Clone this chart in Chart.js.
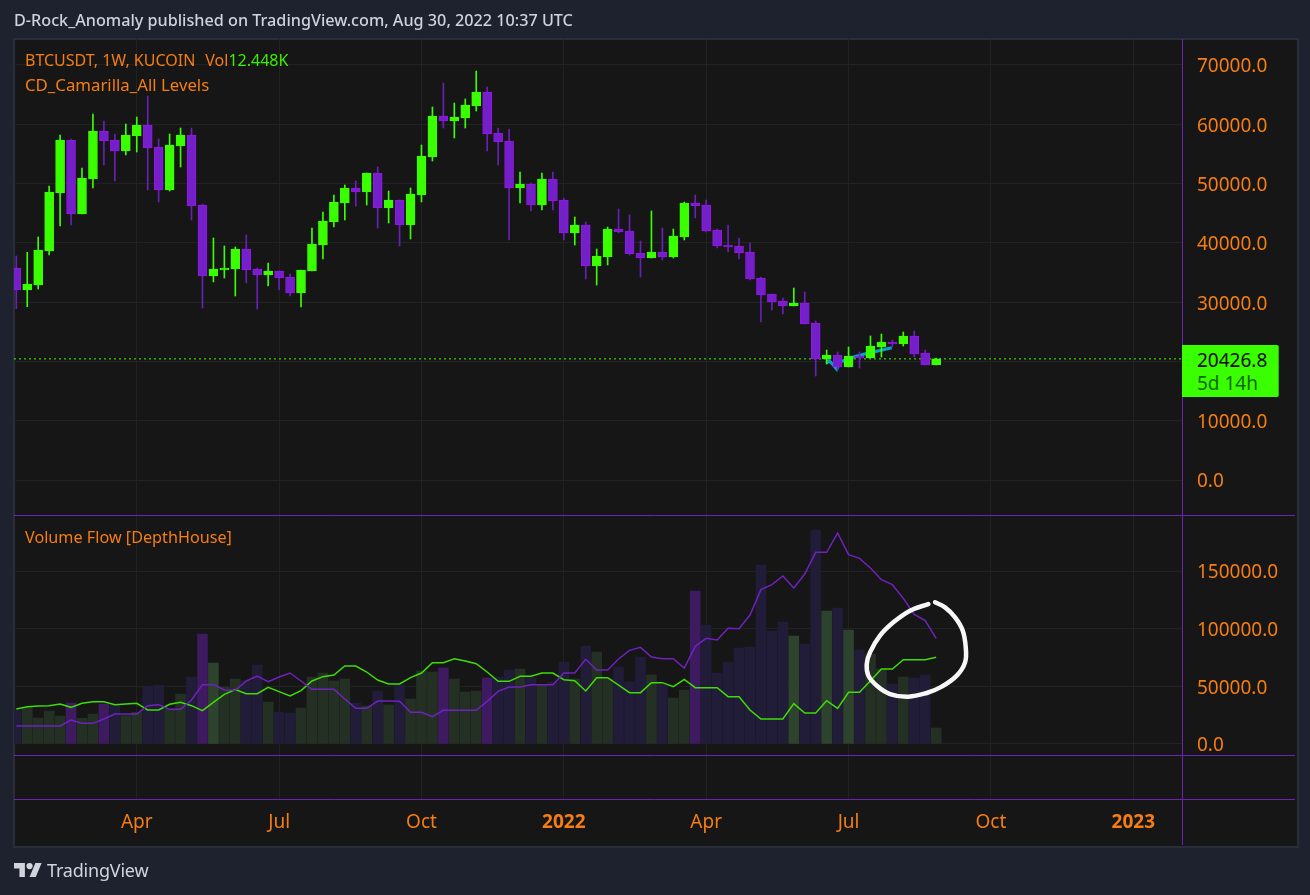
<!DOCTYPE html>
<html>
<head>
<meta charset="utf-8">
<script src="https://cdn.jsdelivr.net/npm/chart.js@4"></script>
<style>
html,body{margin:0;padding:0;width:1310px;height:895px;overflow:hidden;background:#1e222f;}
body{position:relative;font-family:"Noto Sans",sans-serif;}
#pane{position:absolute;left:13px;top:38px;width:1282px;height:806px;background:#161616;border:2px solid #2a2e3a;}
canvas{position:absolute;left:0;top:0;}
.t{position:absolute;white-space:pre;line-height:1;}
.o{color:#f57d14;font-size:16px;}
</style>
</head>
<body>
<div id="pane"></div>
<canvas id="c" width="1310" height="895" style="width:1310px;height:895px"></canvas>
<div class="t" style="left:14px;top:12px;font-size:16.2px;font-weight:500;color:#cfd2dc;">D-Rock_Anomaly published on TradingView.com, Aug 30, 2022 10:37 UTC</div>
<div class="t o" style="left:25px;top:52px;font-size:16px;">BTCUSDT, 1W, KUCOIN<span style="margin-left:10px">Vol</span><span style="color:#3cf000">12.448K</span></div>
<div class="t o" style="left:25px;top:77px;font-size:16.8px;">CD_Camarilla_All Levels</div>
<div class="t o" style="left:25px;top:529px;font-size:16.2px;">Volume Flow [DepthHouse]</div>
<div id="lastBox" style="position:absolute;left:1182px;top:345px;width:96px;height:52px;background:#39ff00;border-right:1px solid #2bb800;border-radius:0 2px 2px 0;"></div>
<div class="t" style="left:1197px;top:351px;font-size:19px;color:#0a0a0a;">20426.8</div>
<div class="t" style="left:1197px;top:374px;font-size:19px;color:#136a00;">5d 14h</div>
<svg style="position:absolute;left:14px;top:863px" width="28" height="14" viewBox="0 4 36 18"><path fill="#d1d4dc" d="M14 22H7V11H0V4h14v18zM28 22h-8l7.5-18h8L28 22z"/><circle fill="#d1d4dc" cx="20" cy="8" r="4"/></svg>
<div class="t" style="left:47px;top:861px;font-size:18px;color:#d1d4dc;letter-spacing:-0.2px;">TradingView</div>
<script>
const xTickIndex = [11, 24, 37, 50, 63, 76, 89, 102];
const xTickLabels = ["Apr", "Jul", "Oct", "2022", "Apr", "Jul", "Oct", "2023"];
const yearLabels = ["2022", "2023"];
const priceTicks = [0, 10000, 20000, 30000, 40000, 50000, 60000, 70000];
const volumeTicks = [0, 50000, 100000, 150000];
const lastPrice = 20426.8;

const opens = [35700,32050,32890,38620,48410,57350,44860,50770,58860,57350,55490,58020,59875,56160,48910,56330,58190,46380,34410,35420,35590,38960,35590,34580,35250,34240,31540,35250,39640,43520,46720,49250,48580,51780,45880,47230,43010,48070,54480,61390,60550,61060,63080,65440,58530,57180,49250,49920,46380,50770,47230,41660,43010,36090,37610,42340,42000,38285,37440,38450,37610,40980,46720,46380,42165,39635,39465,38450,34070,31370,30190,29350,29850,26480,20410,21080,19060,20915,20580,22430,23275,22940,24290,21420,19395];
const closes = [32050,33060,38790,48570,57350,44860,50940,58860,57180,55490,58190,59875,55995,48910,56500,58190,46210,34410,35590,35760,38960,35420,34580,35250,34070,31540,35420,39800,43680,46890,49250,48580,51780,45880,47230,43010,48240,54650,61390,60550,61220,63250,65440,58360,57010,49250,49920,46380,50770,47060,41660,43010,36090,37780,42340,41830,38120,37440,38450,37610,41150,46720,46210,41990,39465,39300,38285,33900,31200,30020,29350,29850,26310,20410,21080,19060,20915,20580,22600,23275,22940,24290,21250,19395,20427];
const highs = [37780,38400,40990,49590,58190,57510,52620,61730,60550,58360,60040,61220,64760,57510,58360,59370,59370,46550,40820,39470,39300,41320,35760,36600,35250,34740,35420,42500,45200,48070,49760,50430,51780,52790,48740,47230,49250,56500,62910,66960,63580,64260,68980,66280,59370,59200,51950,50090,51780,51950,47560,44360,43520,38960,42670,45710,44700,40310,45370,42500,42330,46890,48070,47225,42330,43010,40820,39970,34240,31370,30700,32380,31710,26820,21925,21590,22430,21590,24290,24625,23610,24960,25130,21925,20580];
const lows = [28900,29230,32210,37950,42840,43010,44860,49250,53130,50430,54820,55320,48910,46890,48740,52790,43850,29010,33400,34070,31030,33230,28840,32720,32050,31030,29180,35250,37270,42670,43850,46210,46380,42500,43350,39470,40650,46890,53800,59370,57680,59370,62240,55490,53130,40480,46720,45370,45540,45540,40480,39640,33900,32890,36260,41660,37950,34240,37440,37100,37440,40480,44190,41830,39130,38450,37275,33730,26650,28670,28000,29350,26310,17540,19565,18550,19060,18890,20580,20745,22430,22600,20745,19395,19395];
const volumes = [29480,31790,22540,28610,24280,35550,22250,26010,34680,33810,24565,27455,50000,50860,30345,43350,58090,95370,70230,49420,56355,54910,68490,36410,27740,26880,31210,58090,61560,54620,56355,35550,32950,45950,33810,51150,39015,63290,62420,65890,56355,45085,45950,57220,58090,64160,65025,58090,51150,53750,71090,56355,84970,79760,56355,66760,53750,75430,59820,52020,39880,46820,132650,103170,61560,71090,83230,84100,155190,97970,105770,93640,86700,185540,115310,117910,98840,81500,78030,65025,52020,58090,57220,59820,13870];
const strongVolumeBars = [5, 8, 17, 18, 39, 43, 62, 71, 74, 76];
const flowUp = [30345,32370,32950,33235,34680,31790,35260,36700,36700,34100,34680,35260,29480,29480,34390,36125,33235,28900,36125,43060,47110,43640,43640,49130,45370,41620,46240,54620,58380,59820,67630,67630,62420,55490,52020,52020,57510,61560,70520,70520,73980,71960,69650,62420,54330,54330,58670,58670,61560,61560,55780,54910,45950,57510,57510,51150,44510,44510,53180,53180,49710,56070,48840,48840,48840,41040,41040,29480,21680,21680,21680,34970,26880,26880,37570,30920,44800,44800,54910,65025,65025,73120,73120,73120,75140];
const flowDown = [15610,15610,15610,15610,15610,20810,17920,17920,21680,26010,26010,26010,33235,34100,30060,30060,38150,51440,51440,46820,46530,54620,58960,54040,58090,61560,54620,47400,47400,47400,39015,30920,30920,37280,37280,36990,27455,27455,23700,29190,29190,29190,29190,36990,45660,49420,49420,51440,51440,51440,61560,61560,73410,64160,64160,73700,81210,83810,75430,73980,73980,65890,84680,91610,90170,100280,99990,111840,133810,138140,145660,135250,147390,166180,166180,182940,164150,160970,152590,142480,138140,126290,112420,106930,91610];
const camarillaIndex = [74.0, 74.2, 74.47, 74.92, 75.22, 76.55, 77.46, 79.95];
const camarillaPrice = [19680, 20155, 19680, 18670, 19900, 20800, 21250, 22310];
const circleIndex = [83.90,84.81,85.73,86.43,86.70,86.64,85.88,84.51,83.14,81.46,79.79,78.58,77.81,77.66,77.96,78.87,80.09,81.62,83.29];
const circleVolume = [122825,118490,109820,98260,83810,70805,59245,49710,44220,41040,43350,50575,59245,69360,79475,93925,105485,115600,121380];

const GREEN = '#39ff00', PURPLE = '#7320c8', PURPLE_EDGE = '#9a12ee', WICK_PURPLE = '#6a20b8';
const ORANGE = '#f57d14', SEP = '#6a22b8', GRID = '#222222';
const isUp = i => closes[i] >= opens[i];
const xMin = -0.21, xMax = 106.45;

const wickData = opens.map((_, i) => ({x: i, y: [lows[i], highs[i]]}));
const bodyData = opens.map((_, i) => ({x: i, y: [opens[i], closes[i]]}));
const volData = volumes.map((v, i) => ({x: i, y: v}));
const line = arr => arr.map((v, i) => ({x: i, y: v}));

const framePlugin = {
  id: 'frame',
  afterDatasetsDraw(chart) {
    const {ctx, chartArea, scales} = chart;
    const right = chart.width - 15;
    ctx.save();
    ctx.strokeStyle = SEP;
    ctx.lineWidth = 1;
    ctx.beginPath();
    [scales.price.bottom, scales.volume.bottom, scales.x.top].forEach(y => {
      const py = Math.round(y) + 0.5;
      ctx.moveTo(chartArea.left, py);
      ctx.lineTo(right, py);
    });
    const vx = Math.round(chartArea.right) + 0.5;
    ctx.moveTo(vx, chartArea.top);
    ctx.lineTo(vx, scales.x.bottom);
    ctx.stroke();
    ctx.restore();
  }
};

const setWidth = s => { s.width = 113; };
const nudgeLabels = s => {
  if (s._labelNudged) return;
  s._labelNudged = true;
  const compute = s._computeLabelItems.bind(s);
  s._computeLabelItems = a => compute(a).map(it => {
    it.options.translation = [it.options.translation[0], it.options.translation[1] + 2];
    return it;
  });
};
const tickFont = {family: '"Noto Sans", sans-serif', size: 19};
const isYearTick = c => !!c.tick && yearLabels.includes(xTickLabels[xTickIndex.indexOf(c.tick.value)]);

new Chart(document.getElementById('c'), {
  data: {
    datasets: [
      {type: 'scatter', data: [{x: xMin, y: lastPrice}, {x: xMax, y: lastPrice}], yAxisID: 'price', showLine: true, pointRadius: 0, borderColor: GREEN, borderWidth: 1, borderDash: [2, 3], order: 30},
      {type: 'scatter', data: camarillaIndex.map((x, i) => ({x, y: camarillaPrice[i]})), yAxisID: 'price', showLine: true, pointRadius: 0, borderColor: '#00a6c9', borderWidth: 3, order: 25},
      {type: 'bar', data: volData, yAxisID: 'volume', grouped: false, barThickness: 10,
        backgroundColor: volumes.map((_, i) => strongVolumeBars.includes(i) ? (isUp(i) ? '#2d432d' : '#3e1a60') : (isUp(i) ? '#243024' : '#211c38')), order: 20},
      {type: 'bar', data: wickData, yAxisID: 'price', grouped: false, barThickness: 1,
        backgroundColor: opens.map((_, i) => isUp(i) ? GREEN : WICK_PURPLE), order: 12},
      {type: 'bar', data: bodyData, yAxisID: 'price', grouped: false, barThickness: 9, borderWidth: 1, borderSkipped: false,
        backgroundColor: opens.map((_, i) => isUp(i) ? GREEN : PURPLE),
        borderColor: opens.map((_, i) => isUp(i) ? GREEN : PURPLE_EDGE), order: 10},
      {type: 'scatter', data: line(flowUp), yAxisID: 'volume', showLine: true, pointRadius: 0, borderColor: '#3fdc06', borderWidth: 1.5, order: 6},
      {type: 'scatter', data: line(flowDown), yAxisID: 'volume', showLine: true, pointRadius: 0, borderColor: '#6f22bd', borderWidth: 1.5, order: 5},
      {type: 'scatter', data: circleIndex.map((x, i) => ({x, y: circleVolume[i]})), yAxisID: 'volume', showLine: true, pointRadius: 0, borderColor: 'rgba(255,255,255,0.97)', borderWidth: 4.5, tension: 0.4, borderCapStyle: 'round', order: 1}
    ]
  },
  options: {
    responsive: false,
    animation: false,
    devicePixelRatio: 1,
    events: [],
    layout: {padding: {left: 14, top: 39, right: 15, bottom: 50}},
    plugins: {legend: {display: false}, tooltip: {enabled: false}, title: {display: false}},
    scales: {
      x: {
        type: 'linear', position: 'bottom', min: xMin, max: xMax, offset: false,
        afterBuildTicks: s => { s.ticks = xTickIndex.map(v => ({value: v})); },
        afterFit: s => { s.height = 46; },
        border: {display: false},
        grid: {color: GRID, drawTicks: false, offset: false},
        ticks: {
          autoSkip: false, maxRotation: 0, padding: 12, color: ORANGE,
          callback: v => xTickLabels[xTickIndex.indexOf(v)],
          font: c => ({...tickFont, weight: isYearTick(c) ? 'bold' : 'normal'})
        }
      },
      price: {
        type: 'linear', position: 'right', stack: 'axis', stackWeight: 476, weight: 1,
        min: -5903, max: 74380,
        afterBuildTicks: s => { s.ticks = priceTicks.map(v => ({value: v})); nudgeLabels(s); },
        afterFit: setWidth,
        border: {display: false},
        grid: {color: GRID, drawTicks: false},
        ticks: {color: ORANGE, font: tickFont, padding: 15, callback: v => v.toFixed(1)}
      },
      volume: {
        type: 'linear', position: 'right', stack: 'axis', stackWeight: 240, weight: 2,
        min: -9538, max: 198560,
        afterBuildTicks: s => { s.ticks = volumeTicks.map(v => ({value: v})); nudgeLabels(s); },
        afterFit: setWidth,
        border: {display: false},
        grid: {color: GRID, drawTicks: false},
        ticks: {color: ORANGE, font: tickFont, padding: 15, callback: v => v.toFixed(1)}
      },
      spacer: {
        type: 'linear', position: 'right', stack: 'axis', stackWeight: 44, weight: 3,
        min: 0, max: 1,
        afterFit: setWidth,
        border: {display: false},
        grid: {display: false},
        ticks: {display: false}
      }
    }
  },
  plugins: [framePlugin]
});
</script>
</body>
</html>
